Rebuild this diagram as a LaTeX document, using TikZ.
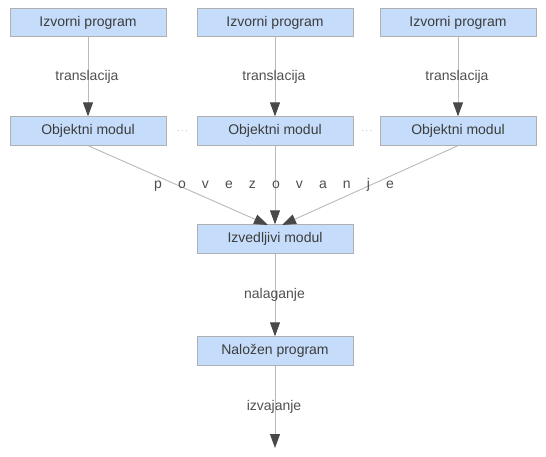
\documentclass[tikz,border=0pt]{standalone}
\usepackage{fontspec}
\setmainfont{Liberation Sans}
\usetikzlibrary{arrows.meta}
\definecolor{boxfill}{RGB}{197,221,250}
\definecolor{boxdraw}{RGB}{176,176,176}
\definecolor{txt}{RGB}{60,60,60}
\definecolor{lbl}{RGB}{80,80,80}
\definecolor{wire}{RGB}{185,185,185}
\definecolor{tip}{RGB}{72,72,72}
\begin{document}
\begin{tikzpicture}[x=1pt,y=-1pt,
  box/.style={draw=boxdraw, line width=0.8pt, fill=boxfill, minimum width=156pt, minimum height=28.5pt, inner sep=0pt, text=txt, font=\fontsize{14}{16}\selectfont},
  flow/.style={draw=wire, line width=0.9pt, -{Triangle[length=14pt,width=10pt,color=tip]}},
  elabel/.style={text=lbl, font=\fontsize{14}{16}\selectfont, inner sep=0pt},
  dotsl/.style={text=lbl!70, font=\fontsize{9}{10}\selectfont, inner sep=0pt}]
\useasboundingbox (0,0) rectangle (546,457);
\node[box] (s1) at (88,22.5) {Izvorni program};
\node[box] (s2) at (275,22.5) {Izvorni program};
\node[box] (s3) at (458,22.5) {Izvorni program};
\node[box] (o1) at (88,131) {Objektni modul};
\node[box] (o2) at (275,131) {Objektni modul};
\node[box] (o3) at (458,131) {Objektni modul};
\node[box] (iz) at (275,239) {Izvedljivi modul};
\node[box] (nl) at (275,351) {Naložen program};
\coordinate (end) at (275,448);
\coordinate (tl) at (268,225);
\coordinate (tr) at (282,225);

\node[dotsl] (d1) at (182.5,131) {$\cdots$};
\node[dotsl] (d2) at (367,131) {$\cdots$};

\draw[flow] (s1) -- (o1);
\draw[flow] (s2) -- (o2);
\draw[flow] (s3) -- (o3);
\draw[flow] (o1.south) -- (tl);
\draw[flow] (o3.south) -- (tr);
\draw[flow] (o2) -- (iz);
\draw[flow] (iz) -- (nl);
\draw[flow] (nl) -- (end);

\node[elabel] (t1) at (87,77) {translacija};
\node[elabel] (t2) at (274,77) {translacija};
\node[elabel] (t3) at (457,77) {translacija};
\node[elabel] (pv) at (274,185) {{\spaceskip=16.1pt p o v e z o v a n j e}};
\node[elabel] (na) at (274.5,295) {nalaganje};
\node[elabel] (iv) at (274,407) {izvajanje};
\end{tikzpicture}
\end{document}
